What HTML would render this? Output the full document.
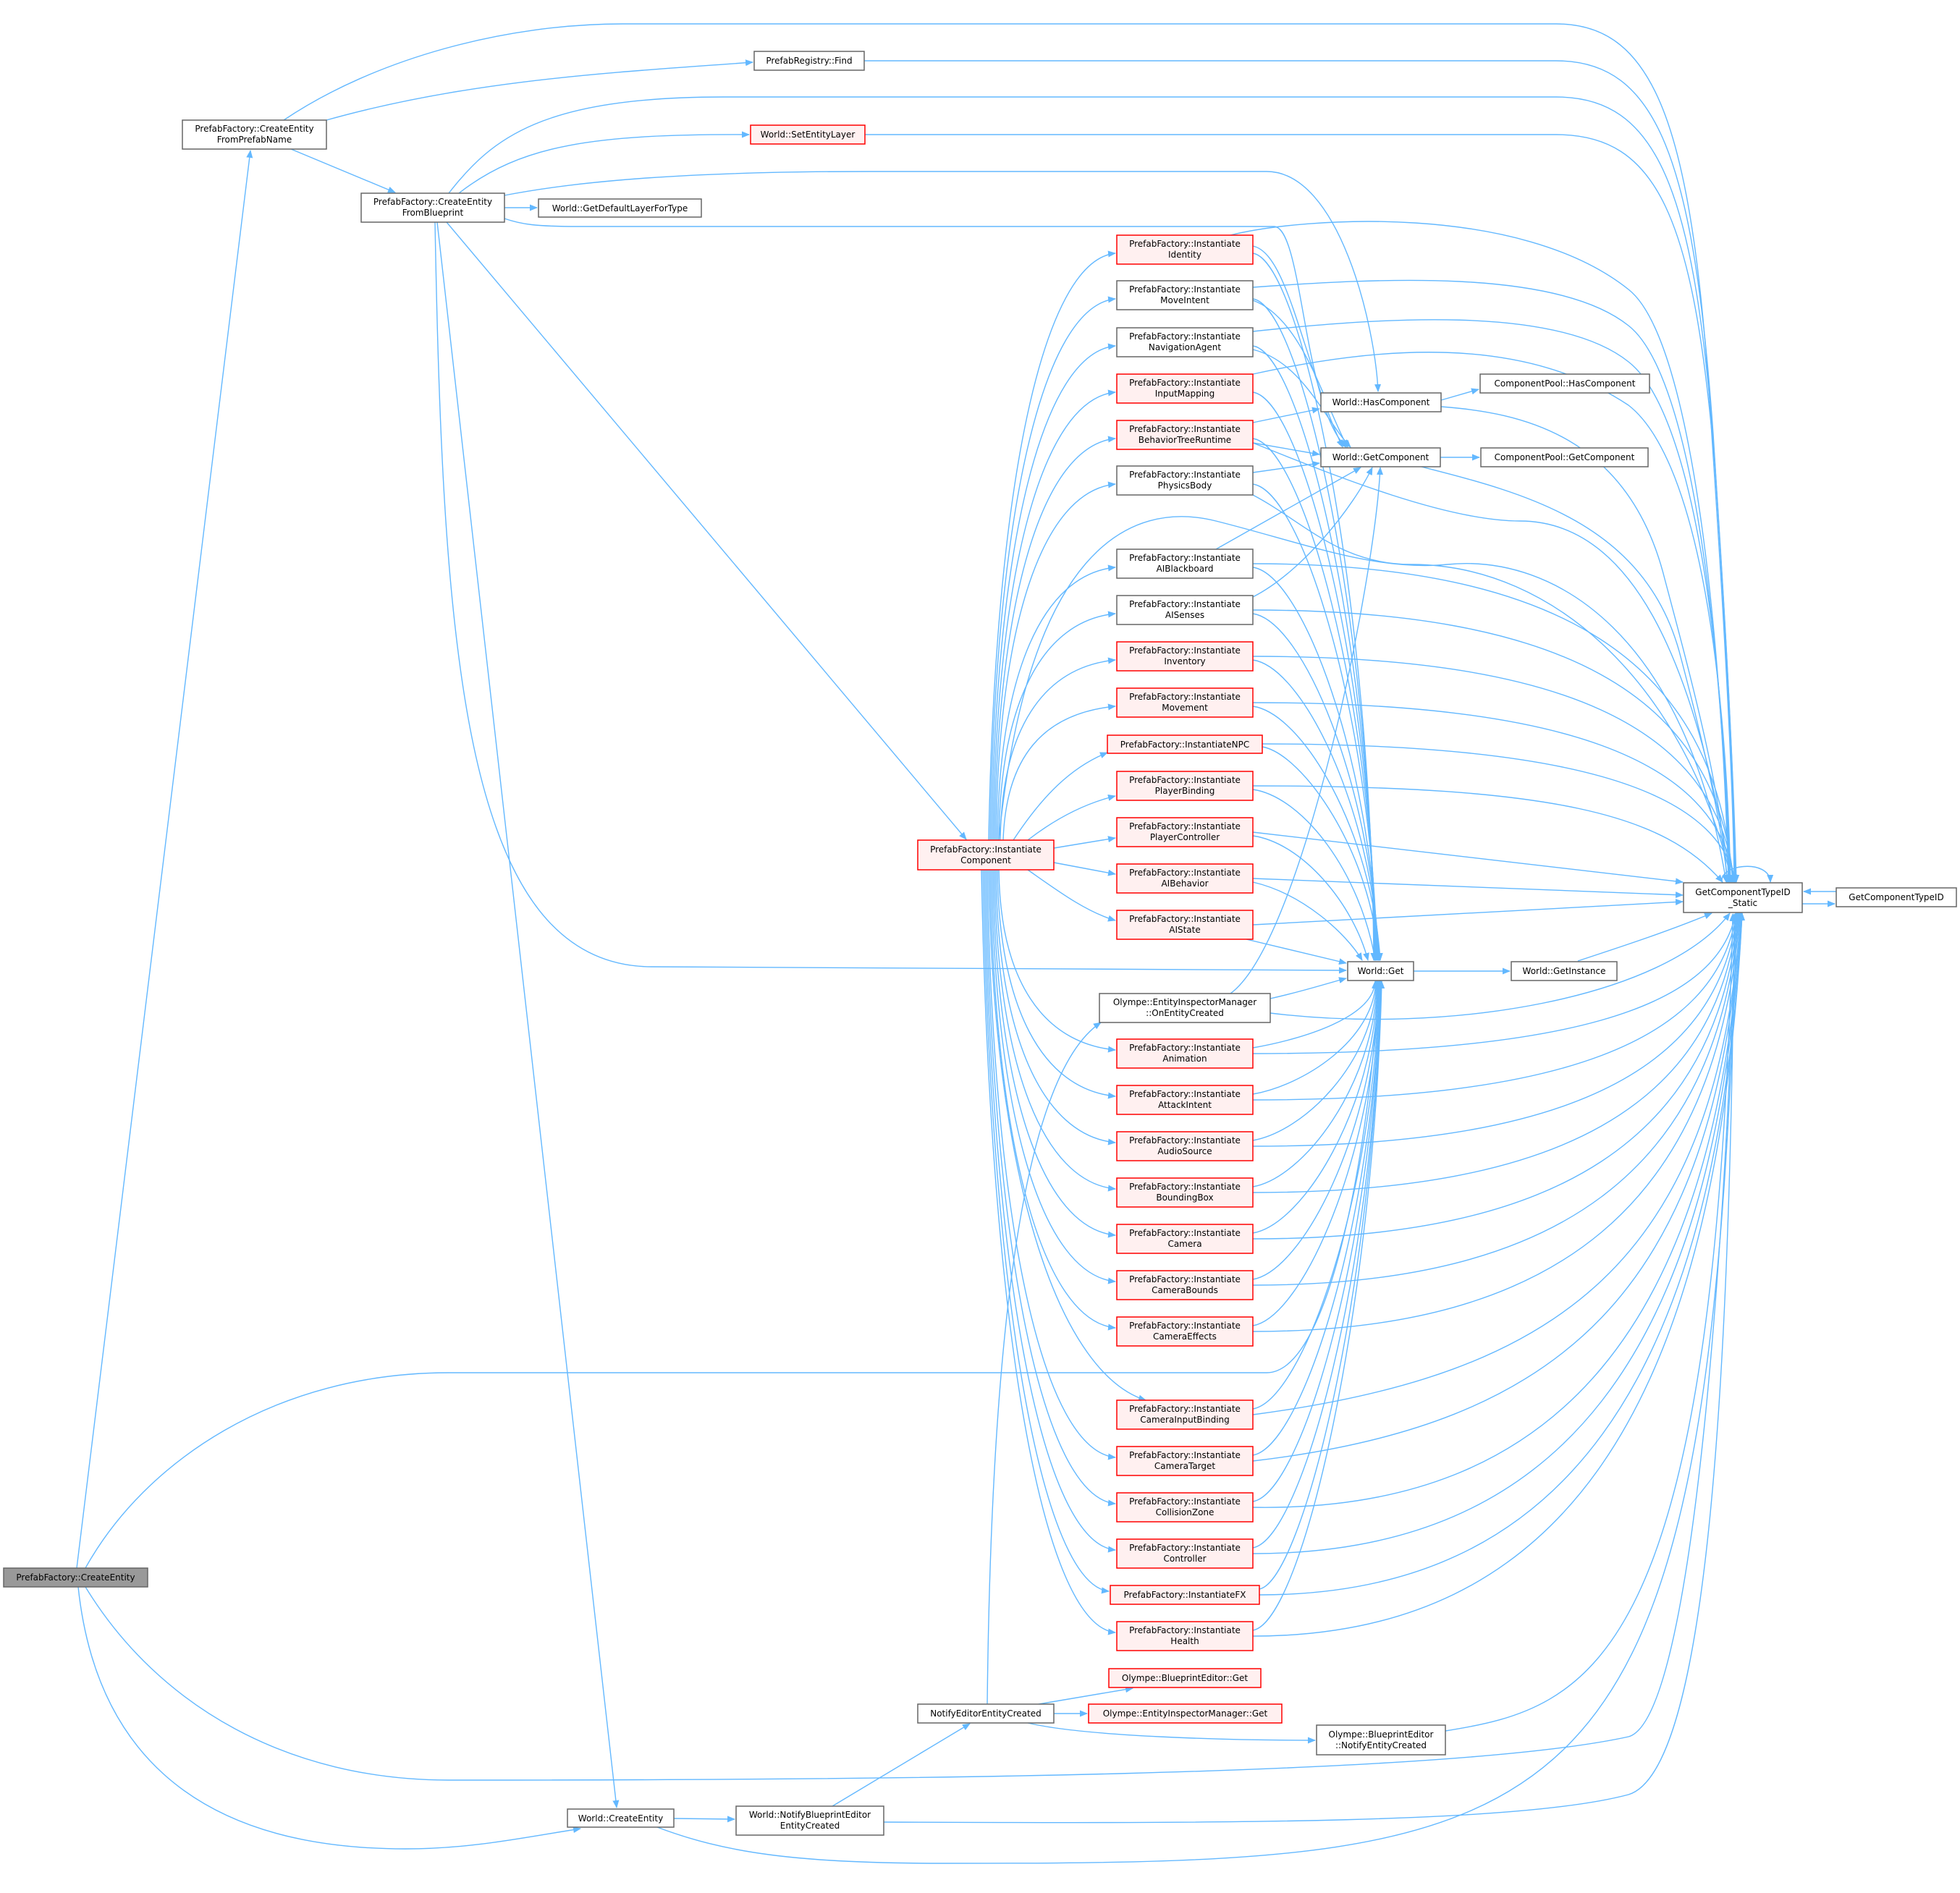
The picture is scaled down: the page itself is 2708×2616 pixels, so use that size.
<!DOCTYPE html>
<html><head><meta charset="utf-8"><style>
html,body{margin:0;padding:0;background:#fff;}
svg{display:block;}
text{font-family:"DejaVu Sans","Liberation Sans",sans-serif;font-size:12px;fill:#000;text-anchor:middle;}
.e{fill:none;stroke:#63b8ff;stroke-width:1.4;marker-end:url(#a);}
.n{fill:#fff;stroke:#666;stroke-width:1.5;}
.r{fill:#fff0f0;stroke:#ff0000;stroke-width:1.5;}
.g{fill:#999;stroke:#666;stroke-width:1.5;}
</style></head><body>
<svg width="2708" height="2616" viewBox="0 0 2708 2616" xmlns="http://www.w3.org/2000/svg">
<defs><marker id="a" markerUnits="userSpaceOnUse" markerWidth="12" markerHeight="9" refX="10" refY="4.5" orient="auto"><path d="M0,0 L11,4.5 L0,9 z" fill="#63b8ff"/></marker></defs>

<!-- edges -->
<g>
<path class="e" d="M106,2167 L346,208"/>
<path class="e" d="M118,2167 C200,2020 380,1897 620,1897 L1750,1897 C1850,1897 1900,1500 1904,1357"/>
<path class="e" d="M118,2193 C220,2360 400,2460 620,2460 C1200,2460 2000,2455 2250,2400 C2360,2370 2395,1400 2398,1263"/>
<path class="e" d="M108,2193 C130,2400 250,2555 560,2555 C650,2555 720,2540 802,2527"/>
<path class="e" d="M392,166 C520,80 700,33 860,33 L2150,33 C2290,33 2340,180 2365,600 C2385,900 2395,1100 2396,1219"/>
<path class="e" d="M451,166 C650,110 850,100 1040,86"/>
<path class="e" d="M402,206 L546,266"/>
<path class="e" d="M1194,84 L2150,84 C2290,84 2340,220 2367,600 C2386,900 2395,1100 2397,1219"/>
<path class="e" d="M620,267 C680,190 750,134 1000,134 L2150,134 C2290,134 2340,260 2368,620 C2387,900 2396,1100 2398,1219"/>
<path class="e" d="M634,267 C720,200 820,185 1035,186"/>
<path class="e" d="M1195,186 L2150,186 C2290,186 2340,300 2369,640 C2387,900 2396,1100 2399,1219"/>
<path class="e" d="M697,270 C800,250 950,237 1200,237 L1750,237 C1850,237 1900,450 1904,541"/>
<path class="e" d="M697,287 L742,287"/>
<path class="e" d="M697,302 C720,310 740,313 800,313 L1760,313 C1800,313 1800,560 1860,618"/>
<path class="e" d="M601,307 C612,900 640,1335 900,1336 L1860,1341"/>
<path class="e" d="M617,307 L1335,1160"/>
<path class="e" d="M604,307 L852,2498"/>

<!-- IC to column -->
<path class="e" d="M1366,1161 C1375,671 1440,360 1541,350"/>
<path class="e" d="M1368,1161 C1375,709 1440,423 1541,413"/>
<path class="e" d="M1370,1161 C1376,748 1440,488 1541,478"/>
<path class="e" d="M1372,1161 C1377,787 1440,552 1541,542"/>
<path class="e" d="M1374,1161 C1378,825 1440,616 1541,606"/>
<path class="e" d="M1376,1161 C1379,863 1440,679 1541,669"/>
<path class="e" d="M1378,1161 C1380,932 1440,794 1541,784"/>
<path class="e" d="M1380,1161 C1382,970 1440,858 1541,848"/>
<path class="e" d="M1382,1161 C1384,1009 1440,922 1541,912"/>
<path class="e" d="M1386,1161 C1390,1047 1440,986 1541,976"/>
<path class="e" d="M1400,1161 C1440,1100 1480,1060 1530,1040"/>
<path class="e" d="M1420,1161 C1460,1130 1500,1110 1541,1100"/>
<path class="e" d="M1456,1172 L1541,1158"/>
<path class="e" d="M1456,1192 L1541,1208"/>
<path class="e" d="M1420,1202 C1460,1230 1500,1260 1541,1272"/>
<path class="e" d="M1380,1202 C1382,1354 1440,1441 1541,1451"/>
<path class="e" d="M1378,1202 C1380,1393 1440,1505 1541,1515"/>
<path class="e" d="M1376,1202 C1378,1431 1440,1569 1541,1579"/>
<path class="e" d="M1374,1202 C1377,1470 1440,1633 1541,1643"/>
<path class="e" d="M1372,1202 C1376,1508 1440,1697 1541,1707"/>
<path class="e" d="M1370,1202 C1375,1546 1440,1761 1541,1771"/>
<path class="e" d="M1368,1202 C1374,1585 1440,1825 1541,1835"/>
<path class="e" d="M1366,1202 C1373,1653 1470,1900 1583,1935"/>
<path class="e" d="M1364,1202 C1372,1692 1440,2004 1541,2014"/>
<path class="e" d="M1362,1202 C1371,1730 1440,2068 1541,2078"/>
<path class="e" d="M1360,1202 C1370,1769 1440,2132 1541,2142"/>
<path class="e" d="M1358,1202 C1369,1803 1440,2189 1532,2199"/>
<path class="e" d="M1356,1202 C1368,1838 1440,2246 1541,2256"/>
<path class="e" d="M1380,1161 C1420,760 1560,690 1680,720 C1800,750 1900,790 2000,780 C2150,765 2330,880 2385,1219"/>

<!-- column to World::Get -->
<path class="e" d="M1731,350 C1800,360 1895,835 1898,1327"/>
<path class="e" d="M1731,413 C1800,423 1895,867 1899,1327"/>
<path class="e" d="M1731,478 C1800,488 1895,900 1900,1327"/>
<path class="e" d="M1731,542 C1800,552 1895,931 1901,1327"/>
<path class="e" d="M1731,606 C1800,616 1895,963 1902,1327"/>
<path class="e" d="M1731,669 C1800,679 1895,995 1903,1327"/>
<path class="e" d="M1731,784 C1800,794 1895,1052 1904,1327"/>
<path class="e" d="M1731,848 C1800,858 1895,1084 1905,1327"/>
<path class="e" d="M1731,912 C1800,922 1895,1116 1906,1327"/>
<path class="e" d="M1731,976 C1800,986 1895,1148 1907,1327"/>
<path class="e" d="M1744,1032 C1800,1042 1895,1177 1905,1327"/>
<path class="e" d="M1731,1091 C1800,1101 1880,1206 1900,1327"/>
<path class="e" d="M1731,1155 C1800,1165 1870,1250 1890,1327"/>
<path class="e" d="M1731,1219 C1800,1235 1860,1290 1882,1327"/>
<path class="e" d="M1722,1298 L1860,1331"/>
<path class="e" d="M1731,1448 C1800,1436 1898,1406 1900,1356"/>
<path class="e" d="M1731,1512 C1800,1500 1898,1438 1901,1356"/>
<path class="e" d="M1731,1576 C1800,1564 1898,1470 1902,1356"/>
<path class="e" d="M1731,1640 C1800,1628 1898,1502 1903,1356"/>
<path class="e" d="M1731,1704 C1800,1692 1898,1534 1904,1356"/>
<path class="e" d="M1731,1768 C1800,1756 1898,1566 1905,1356"/>
<path class="e" d="M1731,1832 C1800,1820 1898,1598 1906,1356"/>
<path class="e" d="M1731,1947 C1800,1935 1898,1655 1906,1356"/>
<path class="e" d="M1731,2011 C1800,1999 1898,1687 1907,1356"/>
<path class="e" d="M1731,2075 C1800,2063 1898,1719 1907,1356"/>
<path class="e" d="M1731,2139 C1800,2127 1898,1751 1908,1356"/>
<path class="e" d="M1740,2196 C1800,2184 1898,1780 1908,1356"/>
<path class="e" d="M1731,2253 C1800,2241 1898,1808 1909,1356"/>

<!-- column to GetComponentTypeID_Static -->
<path class="e" d="M1700,325 C1800,300 2100,280 2250,400 C2340,470 2380,900 2388,1219"/>
<path class="e" d="M1731,397 C1900,385 2150,370 2250,450 C2340,520 2380,900 2389,1219"/>
<path class="e" d="M1731,458 C1900,440 2150,420 2250,500 C2340,570 2382,900 2390,1219"/>
<path class="e" d="M1731,517 C1900,480 2100,460 2250,560 C2340,630 2384,900 2391,1219"/>
<path class="e" d="M1731,612 C1850,660 2000,720 2100,720 C2250,720 2340,900 2392,1219"/>
<path class="e" d="M1731,684 C1800,720 1850,780 1950,780 C2150,780 2330,950 2393,1219"/>
<path class="e" d="M1731,779 C2150,779 2372,911 2394,1219"/>
<path class="e" d="M1731,843 C2150,843 2372,955 2395,1219"/>
<path class="e" d="M1731,907 C2150,907 2372,1000 2396,1219"/>
<path class="e" d="M1731,971 C2150,971 2372,1045 2397,1219"/>
<path class="e" d="M1744,1028 C2150,1028 2372,1085 2398,1219"/>
<path class="e" d="M1731,1086 C2150,1086 2300,1126 2380,1219"/>
<path class="e" d="M1731,1150 L2325,1219"/>
<path class="e" d="M1731,1214 L2325,1237"/>
<path class="e" d="M1731,1278 L2325,1246"/>
<path class="e" d="M1731,1456 C2150,1456 2372,1398 2398,1262"/>
<path class="e" d="M1731,1520 C2150,1520 2372,1443 2399,1262"/>
<path class="e" d="M1731,1584 C2150,1584 2372,1487 2400,1262"/>
<path class="e" d="M1731,1648 C2150,1648 2372,1532 2401,1262"/>
<path class="e" d="M1731,1712 C2150,1712 2372,1577 2402,1262"/>
<path class="e" d="M1731,1776 C2150,1776 2372,1622 2403,1262"/>
<path class="e" d="M1731,1840 C2150,1840 2372,1667 2404,1262"/>
<path class="e" d="M1731,1955 C2150,1900 2372,1747 2405,1262"/>
<path class="e" d="M1731,2019 C2150,1970 2372,1792 2405,1262"/>
<path class="e" d="M1731,2083 C2150,2090 2372,1836 2406,1262"/>
<path class="e" d="M1731,2147 C2150,2147 2372,1880 2406,1262"/>
<path class="e" d="M1740,2204 C2150,2204 2372,1925 2407,1262"/>
<path class="e" d="M1731,2261 C2150,2261 2372,1962 2407,1262"/>

<!-- upper specifics -->
<path class="e" d="M1731,340 C1780,350 1800,500 1855,618"/>
<path class="e" d="M1731,415 C1800,440 1830,560 1862,618"/>
<path class="e" d="M1731,483 C1800,500 1830,580 1866,618"/>
<path class="e" d="M1731,584 L1823,565"/>
<path class="e" d="M1731,612 L1823,628"/>
<path class="e" d="M1731,653 L1823,640"/>
<path class="e" d="M1680,759 L1880,646"/>
<path class="e" d="M1731,825 C1800,790 1870,700 1896,646"/>
<path class="e" d="M1700,1373 C1800,1300 1900,800 1907,646"/>
<path class="e" d="M1755,1380 C1800,1370 1830,1360 1860,1352"/>
<path class="e" d="M1755,1400 C2000,1430 2300,1380 2390,1262"/>
<path class="e" d="M1991,553 L2043,538"/>
<path class="e" d="M1991,562 C2100,570 2250,600 2300,800 C2340,950 2380,1100 2386,1219"/>
<path class="e" d="M1990,632 L2044,632"/>
<path class="e" d="M1960,644 C2100,680 2270,720 2320,900 C2360,1050 2380,1150 2387,1219"/>
<path class="e" d="M1953,1342 L2086,1342"/>
<path class="e" d="M2180,1328 C2250,1305 2310,1285 2365,1262"/>
<path class="e" d="M2380,1221 C2370,1195 2445,1185 2446,1219"/>
<path class="e" d="M2537,1232 L2492,1232"/>
<path class="e" d="M2490,1249 L2535,1249"/>

<!-- bottom -->
<path class="e" d="M1364,2355 C1370,1800 1420,1480 1521,1413"/>
<path class="e" d="M1435,2355 L1565,2333"/>
<path class="e" d="M1456,2368 L1502,2368"/>
<path class="e" d="M1420,2381 C1500,2400 1700,2405 1817,2405"/>
<path class="e" d="M1997,2392 C2200,2360 2370,2300 2394,1263"/>
<path class="e" d="M1150,2496 L1340,2382"/>
<path class="e" d="M1221,2518 C1700,2520 2100,2520 2250,2480 C2350,2450 2390,2000 2396,1263"/>
<path class="e" d="M931,2513 L1015,2514"/>
<path class="e" d="M908,2525 C1000,2560 1100,2575 1300,2575 C2200,2575 2360,2560 2400,1263"/>
</g>

<!-- nodes -->
<g>
<rect class="g" x="5" y="2167" width="199" height="26"/><text x="104.5" y="2184">PrefabFactory::CreateEntity</text>
<rect class="n" x="252" y="166" width="199" height="40"/><text x="351.5" y="182">PrefabFactory::CreateEntity</text><text x="351.5" y="197">FromPrefabName</text>
<rect class="n" x="499" y="267" width="198" height="40"/><text x="598" y="283">PrefabFactory::CreateEntity</text><text x="598" y="298">FromBlueprint</text>
<rect class="n" x="744" y="275" width="225" height="25"/><text x="856.5" y="292">World::GetDefaultLayerForType</text>
<rect class="n" x="1042" y="71" width="152" height="26"/><text x="1118" y="88">PrefabRegistry::Find</text>
<rect class="r" x="1037" y="173" width="158" height="26"/><text x="1116" y="190">World::SetEntityLayer</text>
<rect class="r" x="1268" y="1161" width="188" height="41"/><text x="1362" y="1178">PrefabFactory::Instantiate</text><text x="1362" y="1193">Component</text>

<rect class="r" x="1543" y="325" width="188" height="40"/><text x="1637" y="341">PrefabFactory::Instantiate</text><text x="1637" y="356">Identity</text>
<rect class="n" x="1543" y="388" width="188" height="40"/><text x="1637" y="404">PrefabFactory::Instantiate</text><text x="1637" y="419">MoveIntent</text>
<rect class="n" x="1543" y="453" width="188" height="40"/><text x="1637" y="469">PrefabFactory::Instantiate</text><text x="1637" y="484">NavigationAgent</text>
<rect class="r" x="1543" y="517" width="188" height="40"/><text x="1637" y="533">PrefabFactory::Instantiate</text><text x="1637" y="548">InputMapping</text>
<rect class="r" x="1543" y="581" width="188" height="40"/><text x="1637" y="597">PrefabFactory::Instantiate</text><text x="1637" y="612">BehaviorTreeRuntime</text>
<rect class="n" x="1543" y="644" width="188" height="40"/><text x="1637" y="660">PrefabFactory::Instantiate</text><text x="1637" y="675">PhysicsBody</text>
<rect class="n" x="1543" y="759" width="188" height="40"/><text x="1637" y="775">PrefabFactory::Instantiate</text><text x="1637" y="790">AIBlackboard</text>
<rect class="n" x="1543" y="823" width="188" height="40"/><text x="1637" y="839">PrefabFactory::Instantiate</text><text x="1637" y="854">AISenses</text>
<rect class="r" x="1543" y="887" width="188" height="40"/><text x="1637" y="903">PrefabFactory::Instantiate</text><text x="1637" y="918">Inventory</text>
<rect class="r" x="1543" y="951" width="188" height="40"/><text x="1637" y="967">PrefabFactory::Instantiate</text><text x="1637" y="982">Movement</text>
<rect class="r" x="1530" y="1016" width="214" height="25"/><text x="1637" y="1033">PrefabFactory::InstantiateNPC</text>
<rect class="r" x="1543" y="1066" width="188" height="40"/><text x="1637" y="1082">PrefabFactory::Instantiate</text><text x="1637" y="1097">PlayerBinding</text>
<rect class="r" x="1543" y="1130" width="188" height="40"/><text x="1637" y="1146">PrefabFactory::Instantiate</text><text x="1637" y="1161">PlayerController</text>
<rect class="r" x="1543" y="1194" width="188" height="40"/><text x="1637" y="1210">PrefabFactory::Instantiate</text><text x="1637" y="1225">AIBehavior</text>
<rect class="r" x="1543" y="1258" width="188" height="40"/><text x="1637" y="1274">PrefabFactory::Instantiate</text><text x="1637" y="1289">AIState</text>
<rect class="n" x="1519" y="1373" width="236" height="40"/><text x="1637" y="1389">Olympe::EntityInspectorManager</text><text x="1637" y="1404">::OnEntityCreated</text>
<rect class="r" x="1543" y="1436" width="188" height="40"/><text x="1637" y="1452">PrefabFactory::Instantiate</text><text x="1637" y="1467">Animation</text>
<rect class="r" x="1543" y="1500" width="188" height="40"/><text x="1637" y="1516">PrefabFactory::Instantiate</text><text x="1637" y="1531">AttackIntent</text>
<rect class="r" x="1543" y="1564" width="188" height="40"/><text x="1637" y="1580">PrefabFactory::Instantiate</text><text x="1637" y="1595">AudioSource</text>
<rect class="r" x="1543" y="1628" width="188" height="40"/><text x="1637" y="1644">PrefabFactory::Instantiate</text><text x="1637" y="1659">BoundingBox</text>
<rect class="r" x="1543" y="1692" width="188" height="40"/><text x="1637" y="1708">PrefabFactory::Instantiate</text><text x="1637" y="1723">Camera</text>
<rect class="r" x="1543" y="1756" width="188" height="40"/><text x="1637" y="1772">PrefabFactory::Instantiate</text><text x="1637" y="1787">CameraBounds</text>
<rect class="r" x="1543" y="1820" width="188" height="40"/><text x="1637" y="1836">PrefabFactory::Instantiate</text><text x="1637" y="1851">CameraEffects</text>
<rect class="r" x="1543" y="1935" width="188" height="40"/><text x="1637" y="1951">PrefabFactory::Instantiate</text><text x="1637" y="1966">CameraInputBinding</text>
<rect class="r" x="1543" y="1999" width="188" height="40"/><text x="1637" y="2015">PrefabFactory::Instantiate</text><text x="1637" y="2030">CameraTarget</text>
<rect class="r" x="1543" y="2063" width="188" height="40"/><text x="1637" y="2079">PrefabFactory::Instantiate</text><text x="1637" y="2094">CollisionZone</text>
<rect class="r" x="1543" y="2127" width="188" height="40"/><text x="1637" y="2143">PrefabFactory::Instantiate</text><text x="1637" y="2158">Controller</text>
<rect class="r" x="1534" y="2191" width="206" height="26"/><text x="1637" y="2208">PrefabFactory::InstantiateFX</text>
<rect class="r" x="1543" y="2241" width="188" height="40"/><text x="1637" y="2257">PrefabFactory::Instantiate</text><text x="1637" y="2272">Health</text>

<rect class="n" x="1825" y="543" width="166" height="26"/><text x="1908" y="560">World::HasComponent</text>
<rect class="n" x="1825" y="619" width="165" height="26"/><text x="1907.5" y="636">World::GetComponent</text>
<rect class="n" x="2045" y="517" width="234" height="26"/><text x="2162" y="534">ComponentPool::HasComponent</text>
<rect class="n" x="2046" y="619" width="231" height="26"/><text x="2161.5" y="636">ComponentPool::GetComponent</text>
<rect class="n" x="2326" y="1220" width="164" height="41"/><text x="2408" y="1237">GetComponentTypeID</text><text x="2408" y="1252">_Static</text>
<rect class="n" x="2537" y="1227" width="166" height="26"/><text x="2620" y="1244">GetComponentTypeID</text>
<rect class="n" x="1862" y="1329" width="91" height="26"/><text x="1907.5" y="1346">World::Get</text>
<rect class="n" x="2088" y="1329" width="146" height="26"/><text x="2161" y="1346">World::GetInstance</text>
<rect class="r" x="1532" y="2306" width="210" height="26"/><text x="1637" y="2323">Olympe::BlueprintEditor::Get</text>
<rect class="r" x="1504" y="2355" width="267" height="26"/><text x="1637.5" y="2372">Olympe::EntityInspectorManager::Get</text>
<rect class="n" x="1268" y="2355" width="188" height="26"/><text x="1362" y="2372">NotifyEditorEntityCreated</text>
<rect class="n" x="1819" y="2384" width="178" height="41"/><text x="1908" y="2401">Olympe::BlueprintEditor</text><text x="1908" y="2416">::NotifyEntityCreated</text>
<rect class="n" x="1017" y="2496" width="204" height="40"/><text x="1119" y="2512">World::NotifyBlueprintEditor</text><text x="1119" y="2527">EntityCreated</text>
<rect class="n" x="784" y="2500" width="147" height="25"/><text x="857.5" y="2517">World::CreateEntity</text>
</g>
</svg>
</body></html>
